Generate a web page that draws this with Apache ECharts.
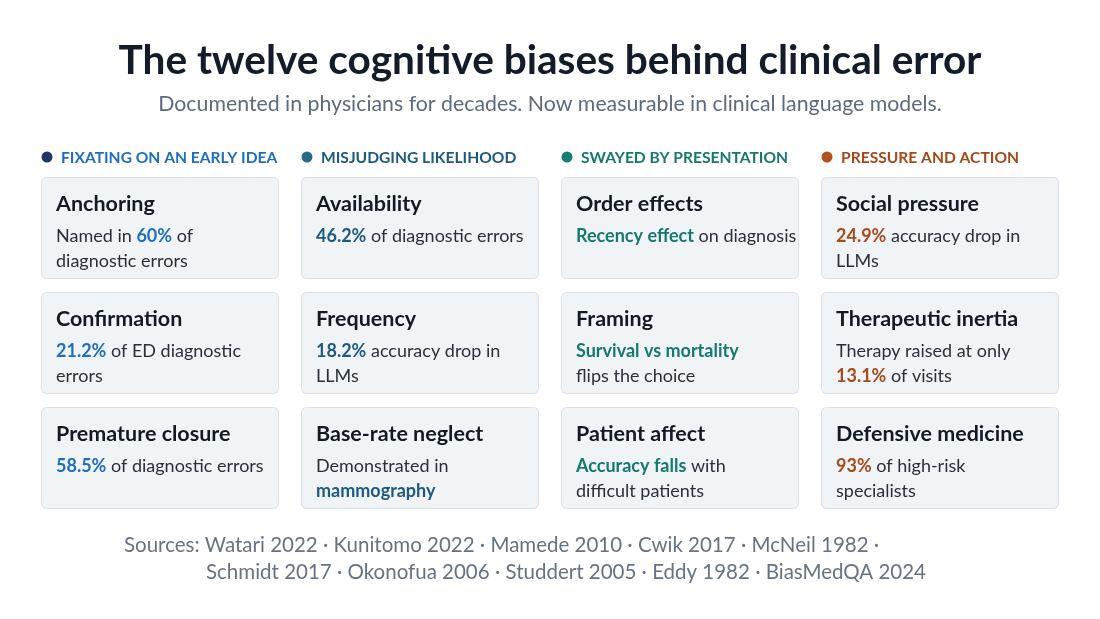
<!DOCTYPE html>
<html>
<head>
<meta charset="utf-8">
<script src="https://cdn.jsdelivr.net/npm/echarts@6/dist/echarts.min.js"></script>
<style>
  html, body { margin: 0; padding: 0; background: #fff; }
  #main { width: 1100px; height: 619px; }
</style>
</head>
<body>
<div id="main"></div>
<script>
// --- Datos ---
const groupNames = ['FIXATING ON AN EARLY IDEA', 'MISJUDGING LIKELIHOOD', 'SWAYED BY PRESENTATION', 'PRESSURE AND ACTION'];
const groupCols = [0, 1, 2, 3];

// one entry per card: column, row, name, note (rich text, {h|...} = highlighted)
const cardCols = [0, 0, 0, 1, 1, 1, 2, 2, 2, 3, 3, 3];
const cardRows = [0, 1, 2, 0, 1, 2, 0, 1, 2, 0, 1, 2];
const biasNames = [
    'Anchoring', 'Confirmation', 'Premature closure',
    'Availability', 'Frequency', 'Base-rate neglect',
    'Order effects', 'Framing', 'Patient affect',
    'Social pressure', 'Therapeutic inertia', 'Defensive medicine'
];
const biasNotes = [
    'Named in {h|60%} of\ndiagnostic errors',
    '{h|21.2%} of ED diagnostic\nerrors',
    '{h|58.5%} of diagnostic errors',
    '{h|46.2%} of diagnostic errors',
    '{h|18.2%} accuracy drop in\nLLMs',
    'Demonstrated in\n{h|mammography}',
    '{h|Recency effect} on diagnosis',
    '{h|Survival vs mortality}\nflips the choice',
    '{h|Accuracy falls} with\ndifficult patients',
    '{h|24.9%} accuracy drop in\nLLMs',
    'Therapy raised at only\n{h|13.1%} of visits',
    '{h|93%} of high-risk\nspecialists'
];
const sourceLines = [
    'Sources: Watari 2022 · Kunitomo 2022 · Mamede 2010 · Cwik 2017 · McNeil 1982 ·',
    'Schmidt 2017 · Okonofua 2006 · Studdert 2005 · Eddy 1982 · BiasMedQA 2024'
];

// --- Estilos ---
const FONT = 'Lato, "Noto Sans", sans-serif';
const dotColors = ['#1e3768', '#2b6a88', '#148073', '#b0521f'];
const headColors = ['#1f6fbe', '#1e5a7c', '#15796e', '#a34a1d'];
const hiColors = ['#1f6fbe', '#1e5a80', '#15796e', '#a64b1c'];
const GAP_X = 23, GAP_Y = 14;

const chart = echarts.init(document.getElementById('main'), null, { renderer: 'canvas' });

function renderCard(params, api) {
    const col = api.value(0), row = api.value(1);
    const p0 = api.coord([col, row]);
    const p1 = api.coord([col + 1, row + 1]);
    const w = p1[0] - p0[0] - GAP_X;
    const h = p1[1] - p0[1] - GAP_Y;
    const i = params.dataIndex;
    return {
        type: 'group',
        children: [
            {
                type: 'rect',
                shape: { x: p0[0] + 0.5, y: p0[1] + 0.5, width: w, height: h, r: 5 },
                style: { fill: '#f1f4f7', stroke: '#dbe1e8', lineWidth: 1 }
            },
            {
                type: 'text',
                style: {
                    x: p0[0] + 15, y: p0[1] + 27,
                    text: biasNames[i],
                    font: 'bold 21.5px ' + FONT,
                    fill: '#141a24',
                    verticalAlign: 'middle'
                }
            },
            {
                type: 'text',
                style: {
                    x: p0[0] + 15, y: p0[1] + 47,
                    text: biasNotes[i],
                    font: '18px ' + FONT,
                    fill: '#2a303a',
                    lineHeight: 25,
                    verticalAlign: 'top',
                    rich: {
                        h: {
                            font: 'bold 18px ' + FONT,
                            fill: hiColors[col],
                            lineHeight: 25
                        }
                    }
                }
            }
        ]
    };
}

function renderHeader(params, api) {
    const col = api.value(0);
    const p0 = api.coord([col, 0]);
    const i = params.dataIndex;
    return {
        type: 'group',
        children: [
            {
                type: 'circle',
                shape: { cx: p0[0] + 6, cy: p0[1] - 20, r: 5.5 },
                style: { fill: dotColors[col] }
            },
            {
                type: 'text',
                style: {
                    x: p0[0] + 20, y: p0[1] - 19,
                    text: groupNames[i],
                    font: 'bold 15.6px ' + FONT,
                    fill: headColors[col],
                    verticalAlign: 'middle'
                }
            }
        ]
    };
}

chart.setOption({
    backgroundColor: '#ffffff',
    animation: false,
    title: {
        text: 'The twelve cognitive biases behind clinical error',
        subtext: 'Documented in physicians for decades. Now measurable in clinical language models.',
        left: 'center',
        top: 35,
        itemGap: 13,
        textStyle: { fontFamily: FONT, fontWeight: 'bold', fontSize: 40.6, color: '#141b29' },
        subtextStyle: { fontFamily: FONT, fontSize: 21.3, color: '#5d6b7c' }
    },
    grid: { left: 41, top: 177, width: 1040, height: 345 },
    xAxis: { type: 'value', min: 0, max: 4, show: false },
    yAxis: { type: 'value', min: 0, max: 3, inverse: true, show: false },
    series: [
        {
            type: 'custom',
            name: 'cards',
            renderItem: renderCard,
            data: cardCols.map((c, i) => [c, cardRows[i]]),
            silent: true
        },
        {
            type: 'custom',
            name: 'headers',
            renderItem: renderHeader,
            data: groupCols.map(c => [c, 0]),
            silent: true
        }
    ],
    graphic: [
        {
            type: 'text', left: 124, top: 535,
            style: { text: sourceLines[0], font: '20.5px ' + FONT, fill: '#677283' }
        },
        {
            type: 'text', left: 206, top: 562,
            style: { text: sourceLines[1], font: '20.5px ' + FONT, fill: '#677283' }
        }
    ]
});
</script>
</body>
</html>
